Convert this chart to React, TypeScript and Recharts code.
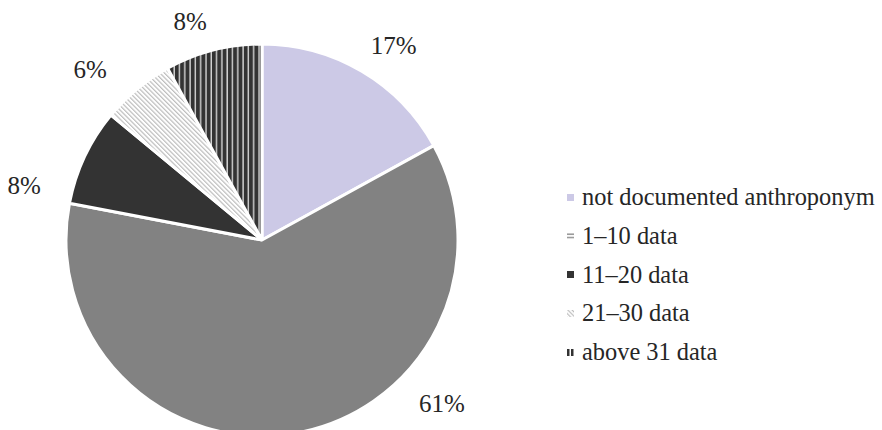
import React from 'react';
import { PieChart, Pie, Cell, Legend } from 'recharts';

const CATEGORIES = ['not documented anthroponym', '1–10 data', '11–20 data', '21–30 data', 'above 31 data'];
const SHARES = [17, 61, 8, 6, 8];

const data = CATEGORIES.map((name, i) => ({ name, value: SHARES[i] }));

const FILLS = ['#ccc9e6', '#828282', '#333333', 'url(#hatch)', 'url(#vstripe)'];
const MARKERS = ['#ccc9e6', 'url(#hlinesSmall)', '#333333', 'url(#hatchSmall)', 'url(#vstripeSmall)'];

// Excel "best fit" label spots: [angle in degrees, distance from centre]
const LABEL_POS: [number, number][] = [
  [55.9, 235],
  [-42.2, 243],
  [167.2, 244],
  [135.2, 242],
  [108.2, 230],
];

const FONT = '"Liberation Serif", "Times New Roman", serif';
const TEXT = '#262626';

const renderLabel = ({ cx, cy, index, percent }: any) => {
  const [deg, r] = LABEL_POS[index];
  const rad = (deg * Math.PI) / 180;
  const x = cx + r * Math.cos(rad);
  const y = cy - r * Math.sin(rad);
  return (
    <text x={x} y={y} textAnchor="middle" dominantBaseline="central" fontSize={25} fontFamily={FONT} fill={TEXT}>
      {`${Math.round(percent * 100)}%`}
    </text>
  );
};

const renderLegend = ({ payload }: any) => (
  <ul style={{ listStyle: 'none', margin: 0, padding: 0 }}>
    {(payload || []).map((entry: any, i: number) => {
      const idx = CATEGORIES.indexOf(entry.value);
      return (
        <li key={`item-${i}`} style={{ height: 38.75, display: 'flex', alignItems: 'center', whiteSpace: 'nowrap' }}>
          <svg width={7} height={7} style={{ marginRight: 8, flexShrink: 0 }}>
            <rect width={7} height={7} fill={MARKERS[idx]} />
          </svg>
          <span>{entry.value}</span>
        </li>
      );
    })}
  </ul>
);

const Patterns = () => (
  <svg width={0} height={0} style={{ position: 'absolute' }}>
    <defs>
      <pattern id="hatch" patternUnits="userSpaceOnUse" width={3.2} height={3.2} patternTransform="rotate(-45)">
        <rect width={3.2} height={3.2} fill="#ffffff" />
        <rect width={1.2} height={3.2} fill="#bdbdbd" />
      </pattern>
      <pattern id="vstripe" patternUnits="userSpaceOnUse" width={5.3} height={10}>
        <rect width={5.3} height={10} fill="#333333" />
        <rect x={3.9} width={1.4} height={10} fill="#d6d6d6" />
      </pattern>
      <pattern id="hatchSmall" patternUnits="userSpaceOnUse" width={3} height={3} patternTransform="rotate(-45)">
        <rect width={3} height={3} fill="#ffffff" />
        <rect width={1.2} height={3} fill="#bdbdbd" />
      </pattern>
      <pattern id="vstripeSmall" patternUnits="userSpaceOnUse" width={4} height={7}>
        <rect width={4} height={7} fill="#ffffff" />
        <rect width={2.5} height={7} fill="#333333" />
      </pattern>
      <pattern id="hlinesSmall" patternUnits="userSpaceOnUse" width={7} height={3.5}>
        <rect width={7} height={3.5} fill="#ffffff" />
        <rect y={0.5} width={7} height={1.3} fill="#828282" />
      </pattern>
    </defs>
  </svg>
);

export default function App() {
  return (
    <div style={{ position: 'absolute', left: 0, top: 0, width: 882, height: 430, background: '#fff' }}>
      <Patterns />
      <PieChart width={882} height={430} margin={{ top: 0, right: 0, bottom: 0, left: 0 }}>
        <Pie
          data={data}
          dataKey="value"
          nameKey="name"
          cx={262}
          cy={240}
          outerRadius={196}
          startAngle={90}
          endAngle={-270}
          stroke="#ffffff"
          strokeWidth={3}
          labelLine={false}
          label={renderLabel}
          isAnimationActive={false}
        >
          {data.map((entry, index) => (
            <Cell key={`cell-${index}`} fill={FILLS[index]} />
          ))}
        </Pie>
        <Legend
          layout="vertical"
          align="right"
          verticalAlign="top"
          itemSorter={(item: any) => CATEGORIES.indexOf(item.value)}
          content={renderLegend}
          wrapperStyle={{ left: 567, right: 'auto', top: 178, fontFamily: FONT, fontSize: 24.4, color: TEXT, lineHeight: 1 }}
        />
      </PieChart>
    </div>
  );
}
